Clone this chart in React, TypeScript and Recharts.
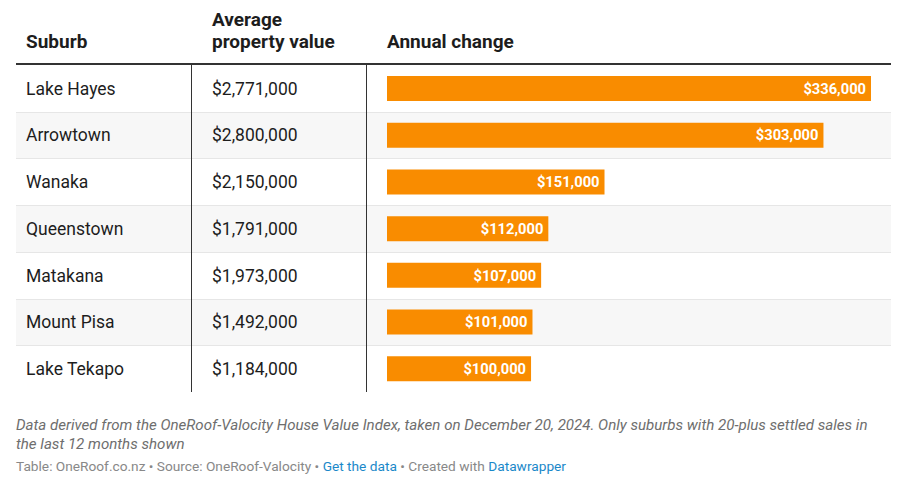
import { BarChart, Bar, XAxis, YAxis, LabelList } from "recharts";

// Suburb rows, top to bottom
const SUBURBS = [
  "Lake Hayes",
  "Arrowtown",
  "Wanaka",
  "Queenstown",
  "Matakana",
  "Mount Pisa",
  "Lake Tekapo",
];

// Average property value ($)
const PROPERTY_VALUES = [2771000, 2800000, 2150000, 1791000, 1973000, 1492000, 1184000];

// Annual change ($)
const ANNUAL_CHANGE = [336000, 303000, 151000, 112000, 107000, 101000, 100000];

const FONT = "Roboto, 'Noto Sans', sans-serif";
const BAR_COLOR = "#f98c00";
const TEXT = "#1d1d1d";

const TABLE_TOP = 65;
const TABLE_HEIGHT = 327;
const ROW_H = TABLE_HEIGHT / SUBURBS.length;

const money = (v: number) => "$" + v.toLocaleString("en-US");

const chartData = SUBURBS.map((suburb, i) => ({
  suburb,
  value: PROPERTY_VALUES[i],
  change: ANNUAL_CHANGE[i],
}));

function RowTick(props: any) {
  const { y, payload } = props;
  const i = payload.index;
  return (
    <g>
      <text x={26} y={y} dy="0.36em" fontSize={17.5} fill={TEXT} fontFamily={FONT}>
        {payload.value}
      </text>
      <text x={212} y={y} dy="0.36em" fontSize={17.5} fill={TEXT} fontFamily={FONT}>
        {money(PROPERTY_VALUES[i])}
      </text>
    </g>
  );
}

const headStyle = {
  position: "absolute" as const,
  fontSize: 19,
  fontWeight: 700,
  lineHeight: "22px",
};

export default function App() {
  return (
    <div
      style={{
        position: "absolute",
        left: 0,
        top: 0,
        width: 901,
        height: 482,
        background: "#fff",
        fontFamily: FONT,
        color: TEXT,
      }}
    >
      {/* column headers */}
      <div style={{ ...headStyle, left: 26, top: 31 }}>Suburb</div>
      <div style={{ ...headStyle, left: 212, top: 9 }}>
        Average
        <br />
        property value
      </div>
      <div style={{ ...headStyle, left: 387, top: 31 }}>Annual change</div>
      <div
        style={{
          position: "absolute",
          left: 16,
          top: 63,
          width: 875,
          height: 2,
          background: "#333",
        }}
      />

      {/* row backgrounds */}
      {SUBURBS.map((s, i) => (
        <div
          key={s}
          style={{
            position: "absolute",
            left: 16,
            top: TABLE_TOP + i * ROW_H,
            width: 875,
            height: ROW_H,
            background: i % 2 === 1 ? "#f7f7f7" : "#fff",
            borderTop: i > 0 ? "1px solid #e6e6e6" : "none",
            boxSizing: "border-box",
          }}
        />
      ))}
      <div
        style={{
          position: "absolute",
          left: 191,
          top: TABLE_TOP,
          width: 1,
          height: TABLE_HEIGHT,
          background: "#333",
        }}
      />
      <div
        style={{
          position: "absolute",
          left: 366,
          top: TABLE_TOP,
          width: 1,
          height: TABLE_HEIGHT,
          background: "#333",
        }}
      />

      <div style={{ position: "absolute", left: 0, top: TABLE_TOP }}>
        <BarChart
          width={901}
          height={TABLE_HEIGHT}
          data={chartData}
          layout="vertical"
          margin={{ top: 0, right: 30, left: 16, bottom: 0 }}
          barSize={25}
        >
          <XAxis type="number" domain={[0, 336000]} hide />
          <YAxis
            type="category"
            dataKey="suburb"
            width={371}
            axisLine={false}
            tickLine={false}
            tick={<RowTick />}
            interval={0}
          />
          <Bar dataKey="change" fill={BAR_COLOR} isAnimationActive={false}>
            <LabelList
              dataKey="change"
              position="insideRight"
              offset={5}
              formatter={(v: any) => money(Number(v))}
              fill="#fff"
              fontSize={14.7}
              fontWeight={700}
              fontFamily={FONT}
            />
          </Bar>
        </BarChart>
      </div>

      {/* notes */}
      <div
        style={{
          position: "absolute",
          left: 16,
          top: 416,
          width: 868,
          fontSize: 15.1,
          lineHeight: "19px",
          fontStyle: "italic",
          color: "#6e6e6e",
        }}
      >
        Data derived from the OneRoof-Valocity House Value Index, taken on December 20, 2024. Only
        suburbs with 20-plus settled sales in the last 12 months shown
      </div>
      <div
        style={{
          position: "absolute",
          left: 16,
          top: 458,
          fontSize: 13.7,
          lineHeight: "17px",
          color: "#888",
        }}
      >
        Table: OneRoof.co.nz • Source: OneRoof-Valocity •{" "}
        <span style={{ color: "#1a88c9" }}>Get the data</span> • Created with{" "}
        <span style={{ color: "#1a88c9" }}>Datawrapper</span>
      </div>
    </div>
  );
}
